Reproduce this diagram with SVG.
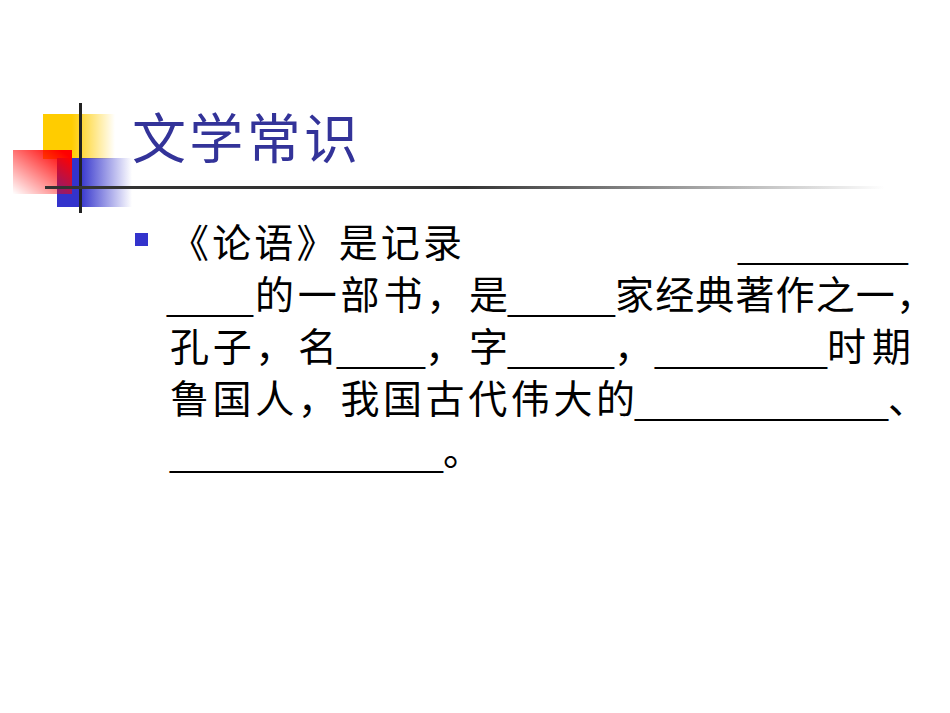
<svg xmlns="http://www.w3.org/2000/svg" width="950" height="713" viewBox="0 0 950 713">
<style>
.c{font-family:"Noto Sans CJK SC",sans-serif;font-size:39px;fill:#000}
.u{font-family:"Liberation Sans",sans-serif;font-size:34px;fill:#000}
</style>
<defs>
<linearGradient id="gy" x1="0" y1="0" x2="1" y2="0"><stop offset="0.4" stop-color="#ffcc00"/><stop offset="1" stop-color="#ffcc00" stop-opacity="0"/></linearGradient>
<linearGradient id="gb" x1="0" y1="0" x2="1" y2="0"><stop offset="0.3" stop-color="#3333cc"/><stop offset="1" stop-color="#3333cc" stop-opacity="0"/></linearGradient>
<linearGradient id="gr" x1="1" y1="0" x2="0" y2="1"><stop offset="0.1" stop-color="#ff0000"/><stop offset="1" stop-color="#ff0000" stop-opacity="0"/></linearGradient>
<linearGradient id="gl" x1="0" y1="0" x2="1" y2="0"><stop offset="0.5" stop-color="#333"/><stop offset="1" stop-color="#333" stop-opacity="0"/></linearGradient>
</defs>
<rect width="950" height="713" fill="#fff"/>
<rect x="43" y="114" width="72" height="45" fill="url(#gy)"/>
<rect x="57" y="158" width="75" height="49" fill="url(#gb)"/>
<rect x="13" y="150" width="59" height="44" fill="url(#gr)"/>
<rect x="79" y="103" width="3" height="110" fill="#222"/>
<rect x="45" y="186" width="840" height="3" fill="url(#gl)"/>
<text x="132" y="159" font-family="Noto Sans CJK SC,sans-serif" font-size="54" fill="#333399" textLength="226" lengthAdjust="spacing">文学常识</text>
<rect x="135" y="233" width="13" height="13" fill="#3333cc"/>
<g id="line1">
<text class="c" x="170" y="257" textLength="292" lengthAdjust="spacing">《论语》是记录</text>
<text class="u" x="738" y="258" textLength="170" lengthAdjust="spacingAndGlyphs">_________</text>
</g>
<g id="line2">
<text class="u" x="167" y="310" textLength="86" lengthAdjust="spacingAndGlyphs">____</text>
<text class="c" x="255" y="309" textLength="253" lengthAdjust="spacing">的一部书，是</text>
<text class="u" x="508" y="310" textLength="107" lengthAdjust="spacingAndGlyphs">_____</text>
<text class="c" x="615" y="309" textLength="320" lengthAdjust="spacing">家经典著作之一，</text>
</g>
<g id="line3">
<text class="c" x="170" y="361" textLength="167" lengthAdjust="spacing">孔子，名</text>
<text class="u" x="337" y="362" textLength="88" lengthAdjust="spacingAndGlyphs">____</text>
<text class="c" x="425" y="361" textLength="83" lengthAdjust="spacing">，字</text>
<text class="u" x="508" y="362" textLength="106" lengthAdjust="spacingAndGlyphs">_____</text>
<text class="c" x="614" y="361">，</text>
<text class="u" x="655" y="362" textLength="172" lengthAdjust="spacingAndGlyphs">________</text>
<text class="c" x="827" y="361" textLength="84" lengthAdjust="spacing">时期</text>
</g>
<g id="line4">
<text class="c" x="170" y="413" textLength="465" lengthAdjust="spacing">鲁国人，我国古代伟大的</text>
<text class="u" x="635" y="414" textLength="253" lengthAdjust="spacingAndGlyphs">____________</text>
<text class="c" x="888" y="413">、</text>
</g>
<g id="line5">
<text class="u" x="170" y="466" textLength="273" lengthAdjust="spacingAndGlyphs">_____________</text>
<text class="c" x="443" y="465">。</text>
</g>
</svg>
